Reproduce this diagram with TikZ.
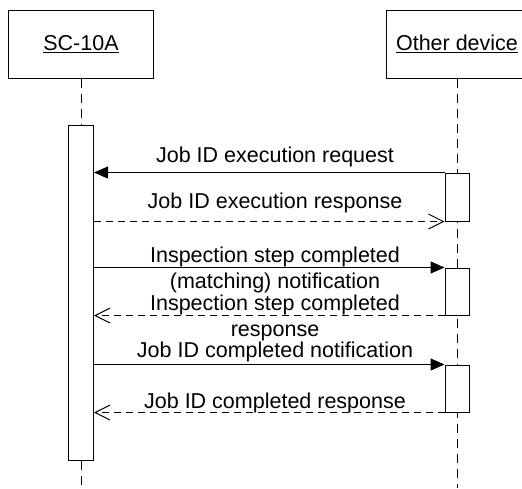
\documentclass[tikz,border=0pt]{standalone}
\usepackage{fontspec}
\setmainfont{Liberation Sans}
\usetikzlibrary{arrows.meta}
\begin{document}
\begin{tikzpicture}[x=1pt,y=-1pt,line width=1pt,
    every node/.style={font=\fontsize{21.5}{26}\selectfont},
    head/.style={draw,minimum height=68pt,inner sep=0pt},
    act/.style={draw,fill=white,minimum width=24pt,inner sep=0pt},
    life/.style={dash pattern=on 9pt off 6pt},
    call/.style={-{Triangle[length=14pt,width=12pt]}},
    reply/.style={dash pattern=on 7pt off 5pt,-{Straight Barb[length=15pt,width=15pt,line width=1pt]}},
    msg/.style={anchor=base,align=center,inner sep=0pt}]
    \useasboundingbox (0,0) rectangle (522,488);
    \clip (0,0) rectangle (522,488);

    \node[head,minimum width=145pt] (sc) at (81,44) {\underline{SC-10A}};
    \node[head,minimum width=142pt] (od) at (457,44) {\underline{Other device}};
    \coordinate (scend) at (81,488);
    \coordinate (odend) at (457,488);

    \draw[life] (od.south) -- (odend);
    \node[act,minimum width=25pt,minimum height=335pt] (scact) at (81,292.5) {};
    \draw[life] (sc.south) -- (scact.north);
    \draw[life] (scact.south) -- (scend);

    \node[act,minimum height=48pt] (od1) at (457,197) {};
    \node[act,minimum height=47pt] (od2) at (457,291.5) {};
    \node[act,minimum height=47pt] (od3) at (457,388.5) {};

    \draw[call] (od1.north west) -- (od1.north west -| scact.east);
    \draw[reply] (od1.south west -| scact.east) -- (od1.south west);
    \draw[call] (od2.north west -| scact.east) -- (od2.north west);
    \draw[reply] (od2.south west) -- (od2.south west -| scact.east);
    \draw[call] (od3.north west -| scact.east) -- (od3.north west);
    \draw[reply] (od3.south west) -- (od3.south west -| scact.east);

    \node[msg] (m1) at (275,162) {Job ID execution request};
    \node[msg] (m2) at (275,208) {Job ID execution response};
    \node[msg] (m3) at (275,288) {Inspection step completed\\(matching) notification};
    \node[msg] (m4) at (275,336) {Inspection step completed\\response};
    \node[msg] (m5) at (275,357) {Job ID completed notification};
    \node[msg] (m6) at (275,408) {Job ID completed response};
\end{tikzpicture}
\end{document}
